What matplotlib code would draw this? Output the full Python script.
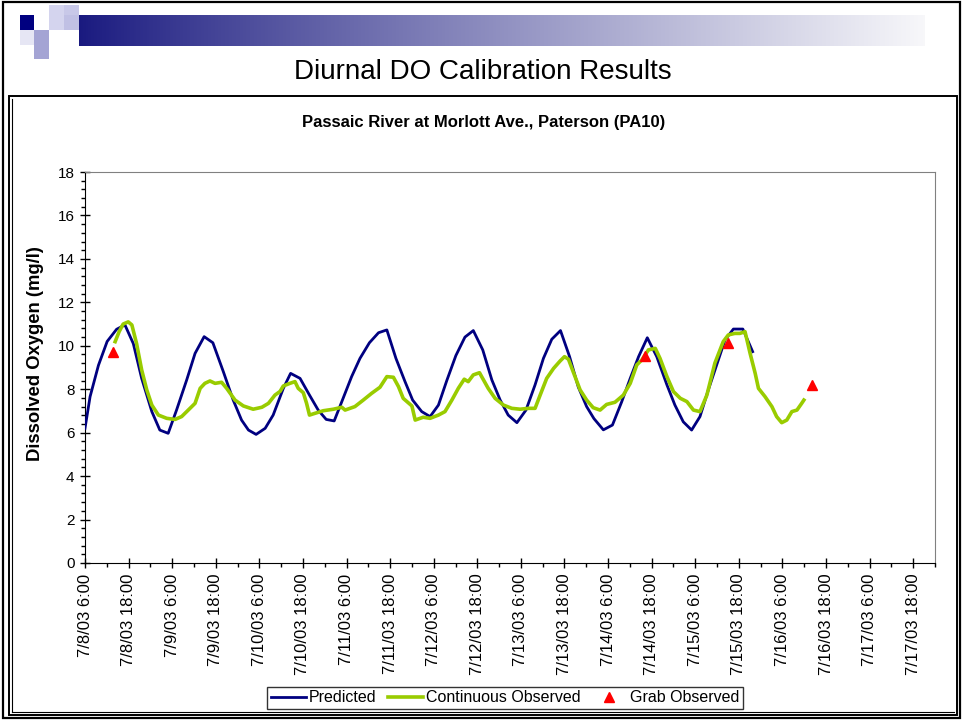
# Diurnal DO calibration chart, Passaic River at Morlott Ave. (PA10)
import numpy as np
import pandas as pd
import matplotlib
matplotlib.use("Agg")
import matplotlib.pyplot as plt
import matplotlib.dates as mdates
from matplotlib.patches import Rectangle
from matplotlib.ticker import MultipleLocator, FuncFormatter

plt.rcParams["font.family"] = ["Liberation Sans", "DejaVu Sans"]

# --- data (hours after 7/8/03 6:00, DO in mg/l) ---
start = pd.Timestamp("2003-07-08 06:00")

pred_hours = [0, 1.4, 3.7, 6.1, 8.7, 11.0, 13.3, 15.6, 18.4, 20.6,
              22.9, 25.2, 28.0, 30.3, 32.8, 35.2, 38.1, 40.8, 43.1, 45.0,
              47.1, 49.6, 51.8, 54.6, 56.6, 59.2, 61.8, 64.2, 66.4, 68.6,
              70.7, 73.4, 75.7, 78.3, 80.8, 83.1, 85.6, 88.1, 90.2, 92.7,
              95.0, 97.3, 99.6, 102.1, 104.6, 106.9, 109.5, 112.0, 114.3, 116.5,
              118.9, 121.4, 123.9, 126.2, 128.5, 130.9, 133.4, 135.8, 138.1, 140.1,
              142.7, 145.2, 147.7, 150.1, 152.4, 154.8, 157.4, 160.2, 162.4, 164.7,
              167.0, 169.3, 171.6, 173.9, 176.2, 178.5, 181.1, 183.8]
pred_do = [6.2, 7.66, 9.1, 10.2, 10.76, 10.96, 10.1, 8.5, 6.97, 6.12,
           5.97, 7.04, 8.43, 9.65, 10.42, 10.14, 8.8, 7.5, 6.58, 6.12,
           5.92, 6.2, 6.81, 8.04, 8.73, 8.5, 7.73, 7.04, 6.61, 6.54,
           7.43, 8.58, 9.42, 10.14, 10.6, 10.73, 9.42, 8.35, 7.5, 6.97,
           6.74, 7.27, 8.4, 9.55, 10.4, 10.7, 9.81, 8.43, 7.5, 6.81,
           6.46, 7.04, 8.2, 9.42, 10.3, 10.7, 9.5, 8.1, 7.2, 6.65,
           6.13, 6.35, 7.4, 8.5, 9.5, 10.37, 9.5, 8.2, 7.27, 6.5,
           6.12, 6.74, 7.97, 9.12, 10.27, 10.77, 10.77, 9.73]

obs_hours = [8.3, 9.4, 10.5, 11.9, 12.9, 14.2, 15.6, 17.0, 18.4, 20.2,
             22.5, 24.8, 26.6, 28.0, 30.3, 31.7, 33.0, 34.4, 35.8, 37.6,
             39.0, 41.3, 43.6, 46.3, 48.7, 50.5, 52.3, 53.7, 54.6, 56.4,
             57.8, 58.7, 60.1, 61.0, 61.8, 63.3, 65.6, 68.4, 70.7, 71.6,
             74.3, 76.6, 78.9, 81.2, 83.1, 84.9, 86.3, 87.6, 90.0, 90.9,
             93.1, 95.0, 97.3, 99.1, 101.0, 102.8, 104.4, 105.5, 106.9, 108.6,
             109.7, 111.0, 112.9, 115.2, 117.5, 119.8, 122.1, 123.9, 125.3, 127.1,
             129.0, 130.8, 132.0, 133.1, 134.4, 136.3, 138.1, 139.9, 141.8, 143.6,
             145.9, 148.2, 150.1, 151.9, 153.3, 155.1, 157.0, 158.3, 160.2, 162.0,
             163.9, 165.7, 167.5, 169.3, 171.2, 173.4, 175.7, 177.1, 178.9, 180.3,
             181.7, 183.1, 184.5, 185.4, 187.2, 189.1, 190.4, 191.8, 193.2, 194.6,
             196.0, 197.3, 197.9]
obs_do = [10.19, 10.65, 11.0, 11.1, 10.96, 10.1, 8.89, 7.97, 7.27, 6.81,
          6.66, 6.61, 6.74, 6.97, 7.35, 8.04, 8.27, 8.38, 8.27, 8.32,
          8.04, 7.5, 7.23, 7.08, 7.17, 7.35, 7.73, 7.9, 8.15, 8.27,
          8.35, 8.04, 7.84, 7.35, 6.81, 6.89, 7.01, 7.08, 7.17, 7.04,
          7.2, 7.5, 7.81, 8.09, 8.58, 8.55, 8.12, 7.58, 7.23, 6.58,
          6.71, 6.66, 6.81, 6.97, 7.5, 8.05, 8.46, 8.35, 8.66, 8.76,
          8.43, 8.04, 7.58, 7.27, 7.12, 7.08, 7.12, 7.12, 7.73, 8.5,
          8.96, 9.3, 9.5, 9.38, 8.8, 7.97, 7.5, 7.15, 7.04, 7.3,
          7.4, 7.73, 8.27, 9.12, 9.35, 9.81, 9.88, 9.42, 8.58, 7.89,
          7.58, 7.43, 7.04, 6.97, 7.73, 9.2, 10.19, 10.5, 10.57, 10.57,
          10.65, 9.65, 8.73, 8.04, 7.66, 7.2, 6.74, 6.46, 6.58, 6.97,
          7.04, 7.35, 7.5]

grab_hours = [7.8, 154.2, 177.1, 200.1]
grab_do = [9.73, 9.53, 10.11, 8.2]

pred_t = start + pd.to_timedelta(pred_hours, unit="h")
obs_t = start + pd.to_timedelta(obs_hours, unit="h")
grab_t = start + pd.to_timedelta(grab_hours, unit="h")

W, H = 963, 721
fig = plt.figure(figsize=(W / 100, H / 100), dpi=100)

# --- slide decoration (pixel coords) ---
deco = fig.add_axes([0, 0, 1, 1], zorder=0)
deco.set_xlim(0, W)
deco.set_ylim(H, 0)
deco.axis("off")

# gradient bar
n = 400
c0 = np.array([0.10, 0.10, 0.50])
frac = np.linspace(0, 1, n) ** 0.9
grad = c0[None, :] * (1 - frac[:, None]) + np.array([0.97, 0.97, 0.98])[None, :] * frac[:, None]
deco.imshow(grad[None, :, :], extent=[79, 925, 46, 15], aspect="auto", zorder=1)

squares = [
    (20, 15, 14, 15, "#000080"),
    (49, 5, 15, 10, "#d4d4ee"),
    (64, 5, 15, 10, "#c8c8e8"),
    (49, 15, 15, 15, "#d4d4ee"),
    (64, 15, 15, 15, "#c0c0e4"),
    (20, 30, 14, 15, "#e6e6f4"),
    (34, 30, 15, 15, "#a4a4d4"),
    (34, 45, 15, 14, "#a4a4d4"),
]
for x, y, w, h, c in squares:
    deco.add_patch(Rectangle((x, y), w, h, facecolor=c, edgecolor="none", zorder=2))

# slide border and chart frame
deco.add_patch(Rectangle((3, 2), 957, 716, fill=False, edgecolor="black", lw=1.6, zorder=3))
deco.add_patch(Rectangle((9, 96), 948, 619, fill=False, edgecolor="black", lw=1.4, zorder=3))
deco.plot([12, 12], [99, 712], color="black", lw=0.8, zorder=3)
deco.plot([12, 954], [712, 712], color="black", lw=0.8, zorder=3)

fig.text(483 / W, 1 - 72 / H, "Diurnal DO Calibration Results",
         family=["Liberation Sans Narrow", "Liberation Sans", "DejaVu Sans"],
         fontsize=20, ha="center", va="center")
fig.text(484 / W, 1 - 122 / H, "Passaic River at Morlott Ave., Paterson (PA10)",
         fontsize=12, fontweight="bold", ha="center", va="center")

# --- chart ---
ax = fig.add_axes([85 / W, 1 - 563 / H, 850 / W, 391 / H], zorder=1)

ax.plot(pred_t, pred_do, color="#000080", lw=2.0, label="Predicted", zorder=3)
ax.plot(obs_t, obs_do, color="#99cc00", lw=2.6, label="Continuous Observed", zorder=4)
ax.plot(grab_t, grab_do, linestyle="none", marker="^", color="#ff0000",
        markersize=7, label="Grab Observed", zorder=5)

ax.set_ylim(0, 18)
ax.set_xlim(start, pd.Timestamp("2003-07-18 00:00"))
ax.yaxis.set_major_locator(MultipleLocator(2))
ax.yaxis.set_minor_locator(MultipleLocator(0.4))
ax.xaxis.set_major_locator(mdates.HourLocator(byhour=[6, 18]))
ax.xaxis.set_minor_locator(mdates.HourLocator(byhour=[0, 12]))


def fmt_date(v, pos):
    d = mdates.num2date(v)
    return f"{d.month}/{d.day}/{d:%y} {d.hour}:{d:%M}"


ax.xaxis.set_major_formatter(FuncFormatter(fmt_date))
ax.tick_params(axis="both", which="major", direction="inout", length=7, width=1, color="black")
ax.tick_params(axis="both", which="minor", direction="out", length=3, width=1, color="black")
ax.tick_params(axis="y", labelsize=11, pad=4)
ax.tick_params(axis="x", labelsize=12, labelrotation=90, pad=4)

for s in ["left", "bottom"]:
    ax.spines[s].set_color("black")
for s in ["top", "right"]:
    ax.spines[s].set_color("#808080")

fig.text(36 / W, 1 - 354 / H, "Dissolved Oxygen (mg/l)", rotation=90,
         fontsize=13.3, fontweight="bold", ha="center", va="center")

leg = fig.legend(loc="center", bbox_to_anchor=(505 / W, 1 - 698 / H), ncol=3,
                 fontsize=11.5, frameon=True, fancybox=False, edgecolor="black",
                 handlelength=2.2, handletextpad=0.2, columnspacing=0.7,
                 borderpad=0.25, borderaxespad=0)
leg.get_frame().set_linewidth(1.0)

fig.savefig("out.png", dpi=100)
